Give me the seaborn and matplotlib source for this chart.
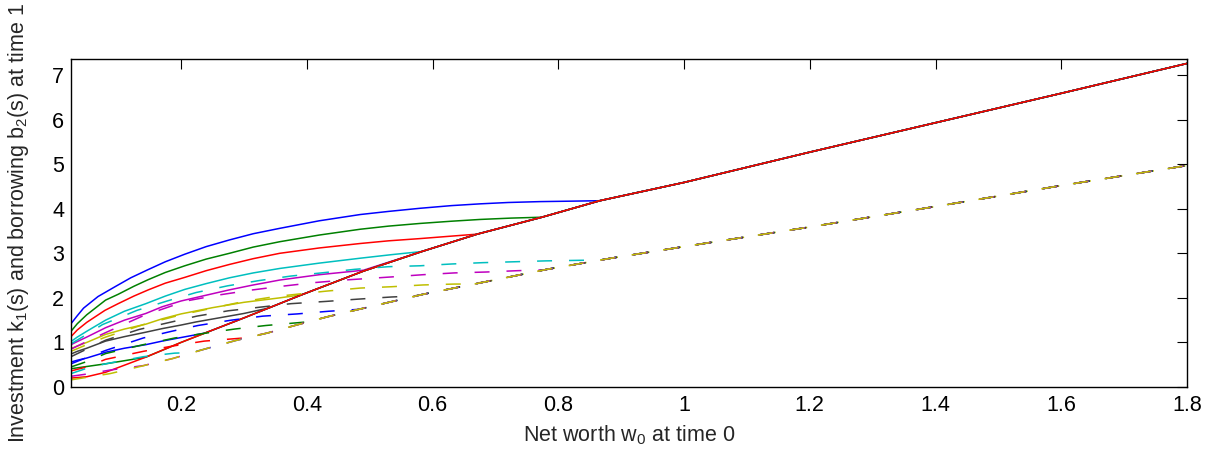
import matplotlib
matplotlib.use('Agg')
import numpy as np
import pandas as pd
import matplotlib.pyplot as plt
import seaborn as sns

# Old MATLAB colour order (b, g, r, c, m, y, k)
matlab_colors = ['#0000FF', '#008000', '#FF0000', '#00BFBF', '#BF00BF', '#BFBF00', '#404040']

# Upper envelope that every k1 curve ends on (solid)
line_k_w = [0.025, 0.05, 0.08, 0.144, 0.2, 0.238, 0.3, 0.339, 0.392, 0.49, 0.583, 0.671,
            0.774, 0.866, 1.0, 1.2, 1.4, 1.6, 1.8]
line_k_v = [0.20, 0.23, 0.33, 0.67, 1.00, 1.21, 1.55, 1.77, 2.07, 2.60, 3.04, 3.43,
            3.81, 4.18, 4.59, 5.27, 5.93, 6.59, 7.26]

# Envelope that every b2 curve ends on (dashed)
line_b_w = [0.025, 0.087, 0.138, 0.187, 0.235, 0.286, 0.337, 0.386, 0.434, 0.485, 0.585,
            0.684, 0.782, 0.884, 1.0, 1.2, 1.4, 1.6, 1.8]
line_b_v = [0.16, 0.30, 0.47, 0.64, 0.84, 1.04, 1.21, 1.40, 1.58, 1.75, 2.08,
            2.36, 2.64, 2.89, 3.15, 3.59, 4.05, 4.52, 4.97]

# Investment k1(s), part before joining the envelope
k_w = [
    [0.025, 0.035, 0.045, 0.068, 0.095, 0.12, 0.147, 0.175, 0.206, 0.24, 0.277, 0.315, 0.357,
     0.42, 0.485, 0.53, 0.58, 0.63, 0.676, 0.72, 0.771, 0.82, 0.866],
    [0.025, 0.035, 0.05, 0.08, 0.1, 0.125, 0.148, 0.175, 0.206, 0.24, 0.277, 0.315, 0.357,
     0.42, 0.485, 0.53, 0.58, 0.63, 0.676, 0.725, 0.774],
    [0.025, 0.035, 0.05, 0.079, 0.1, 0.125, 0.148, 0.175, 0.206, 0.24, 0.277, 0.315, 0.357,
     0.42, 0.485, 0.53, 0.58, 0.625, 0.671],
    [0.025, 0.035, 0.05, 0.08, 0.11, 0.144, 0.175, 0.206, 0.24, 0.277, 0.315, 0.357, 0.42,
     0.485, 0.535, 0.583],
    [0.025, 0.035, 0.05, 0.08, 0.11, 0.144, 0.17, 0.2, 0.24, 0.277, 0.315, 0.357, 0.42, 0.49],
    [0.025, 0.035, 0.05, 0.08, 0.11, 0.144, 0.17, 0.2, 0.25, 0.3, 0.357, 0.392],
    [0.025, 0.035, 0.05, 0.08, 0.11, 0.144, 0.17, 0.2, 0.224, 0.26, 0.3, 0.339],
    [0.025, 0.035, 0.05, 0.08, 0.11, 0.144, 0.17, 0.2, 0.238],
    [0.025, 0.05, 0.08, 0.11, 0.144],
    [0.025],
]
k_v = [
    [1.42, 1.60, 1.77, 2.03, 2.25, 2.45, 2.63, 2.81, 2.98, 3.15, 3.30, 3.44, 3.56,
     3.73, 3.87, 3.94, 4.01, 4.07, 4.11, 4.14, 4.16, 4.17, 4.18],
    [1.25, 1.42, 1.62, 1.95, 2.08, 2.26, 2.41, 2.57, 2.72, 2.87, 3.00, 3.14, 3.26,
     3.41, 3.54, 3.61, 3.67, 3.72, 3.76, 3.79, 3.81],
    [1.13, 1.28, 1.45, 1.72, 1.87, 2.04, 2.18, 2.33, 2.46, 2.61, 2.75, 2.88, 3.00,
     3.12, 3.22, 3.28, 3.33, 3.38, 3.43],
    [1.02, 1.12, 1.25, 1.50, 1.70, 1.87, 2.04, 2.19, 2.32, 2.45, 2.56, 2.66, 2.78,
     2.89, 2.97, 3.04],
    [0.95, 1.02, 1.12, 1.33, 1.50, 1.65, 1.80, 1.93, 2.06, 2.18, 2.29, 2.40, 2.52, 2.62],
    [0.86, 0.92, 1.00, 1.18, 1.30, 1.41, 1.53, 1.64, 1.78, 1.90, 2.00, 2.07],
    [0.74, 0.80, 0.87, 1.03, 1.13, 1.23, 1.31, 1.39, 1.46, 1.55, 1.65, 1.77],
    [0.56, 0.60, 0.65, 0.78, 0.87, 0.95, 1.03, 1.11, 1.21],
    [0.41, 0.46, 0.52, 0.59, 0.67],
    [0.20],
]

# Borrowing b2(s), part before joining the envelope
b_w = [
    [0.025, 0.05, 0.075, 0.13, 0.178, 0.224, 0.274, 0.325, 0.375, 0.43, 0.476, 0.53, 0.58,
     0.63, 0.68, 0.73, 0.78, 0.866],
    [0.025, 0.05, 0.08, 0.14, 0.208, 0.258, 0.309, 0.36, 0.41, 0.46, 0.535, 0.585, 0.635,
     0.685, 0.735, 0.78],
    [0.025, 0.05, 0.08, 0.14, 0.2, 0.3, 0.35, 0.43, 0.485, 0.535, 0.585, 0.635, 0.66],
    [0.025, 0.05, 0.08, 0.133, 0.225, 0.275, 0.325, 0.375, 0.43, 0.48, 0.535, 0.57],
    [0.025, 0.05, 0.08, 0.14, 0.185, 0.227, 0.28, 0.33, 0.385, 0.435, 0.48],
    [0.025, 0.05, 0.08, 0.14, 0.19, 0.235, 0.285, 0.335, 0.40],
    [0.025, 0.05, 0.08, 0.14, 0.187, 0.237, 0.30],
    [0.025, 0.05, 0.08, 0.14, 0.19, 0.215],
    [0.025, 0.05, 0.087, 0.14],
    [0.025],
]
b_v = [
    [0.97, 1.18, 1.40, 1.72, 1.93, 2.12, 2.27, 2.39, 2.49, 2.57, 2.64, 2.70, 2.72,
     2.76, 2.79, 2.81, 2.83, 2.85],
    [0.85, 1.02, 1.22, 1.60, 1.93, 2.06, 2.17, 2.26, 2.34, 2.40, 2.47, 2.52, 2.56,
     2.58, 2.61, 2.63],
    [0.80, 0.95, 1.12, 1.40, 1.62, 1.92, 2.03, 2.15, 2.22, 2.25, 2.29, 2.31, 2.31],
    [0.68, 0.85, 1.05, 1.29, 1.59, 1.71, 1.79, 1.87, 1.92, 1.97, 2.02, 2.04],
    [0.52, 0.66, 0.82, 1.10, 1.25, 1.38, 1.50, 1.59, 1.64, 1.70, 1.74],
    [0.45, 0.57, 0.75, 0.95, 1.10, 1.20, 1.30, 1.38, 1.46],
    [0.36, 0.45, 0.62, 0.80, 0.92, 1.03, 1.10],
    [0.30, 0.42, 0.52, 0.68, 0.76, 0.77],
    [0.24, 0.29, 0.38, 0.48],
    [0.16],
]

x_ticks = [0.2, 0.4, 0.6, 0.8, 1.0, 1.2, 1.4, 1.6, 1.8]
x_ticklabels = ['0.2', '0.4', '0.6', '0.8', '1', '1.2', '1.4', '1.6', '1.8']
y_ticks = [0, 1, 2, 3, 4, 5, 6, 7]


def build(name, curves_w, curves_v, env_w, env_v):
    frames = []
    for i, (cw, cv) in enumerate(zip(curves_w, curves_v)):
        tail = [(x, y) for x, y in zip(env_w, env_v) if x > cw[-1]]
        w = list(cw) + [t[0] for t in tail]
        v = list(cv) + [t[1] for t in tail]
        frames.append(pd.DataFrame({'w': w, 'v': v, 'curve': f'{name}{i + 1}', 'kind': name}))
    return frames


df = pd.concat(build('k', k_w, k_v, line_k_w, line_k_v) +
               build('b', b_w, b_v, line_b_w, line_b_v), ignore_index=True)

order = [f'k{i + 1}' for i in range(10)] + [f'b{i + 1}' for i in range(10)]
palette = {name: matlab_colors[j % 7] for j, name in enumerate(order)}

sns.set_style('white')
plt.rcParams['font.family'] = ['Liberation Sans', 'DejaVu Sans']
plt.rcParams['mathtext.default'] = 'regular'

fig = plt.figure(figsize=(12.11, 4.51), dpi=100)
ax = fig.add_axes([71 / 1211, 1 - 387 / 451, (1187 - 71) / 1211, (387 - 59) / 451])

sns.lineplot(data=df, x='w', y='v', hue='curve', hue_order=order, palette=palette,
             style='kind', style_order=['k', 'b'], dashes={'k': '', 'b': (9.8, 11.1)},
             estimator=None, sort=False, legend=False, lw=1.1, ax=ax)

ax.set_xlim(0.025, 1.8)
ax.set_ylim(0, 7.36)
ax.set_xticks(x_ticks)
ax.set_xticklabels(x_ticklabels)
ax.set_yticks(y_ticks)
ax.tick_params(direction='in', length=7.5, width=0.8, top=True, right=True,
               labelsize=15.5, colors='black', pad=5)
ax.tick_params(axis='x', pad=6)
for s in ax.spines.values():
    s.set_color('black')
    s.set_linewidth(1.0)

ax.set_xlabel('Net worth w$_0$ at time 0', fontsize=15.5)
ax.set_ylabel('Investment k$_1$(s) and borrowing b$_2$(s) at time 1', fontsize=15.5)
ax.xaxis.set_label_coords(0.5, -0.11)
ax.yaxis.set_label_coords(-0.036, 0.5)

fig.savefig('out.png', dpi=100)
